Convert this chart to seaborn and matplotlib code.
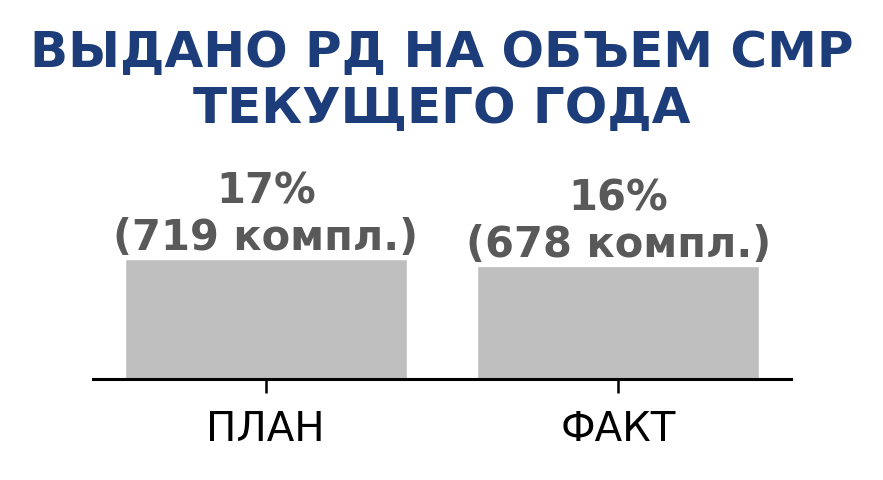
import matplotlib
matplotlib.use("Agg")
import matplotlib.pyplot as plt
import seaborn as sns
import pandas as pd

categories = ["ПЛАН", "ФАКТ"]
counts = [719, 678]
percents = [17, 16]
title = "ВЫДАНО РД НА ОБЪЕМ СМР\nТЕКУЩЕГО ГОДА"

sns.set_style("white")
plt.rcParams['font.family'] = ['DejaVu Sans']

df = pd.DataFrame({"cat": categories, "val": counts})

fig = plt.figure(figsize=(8.83, 4.8), dpi=100)
ax = fig.add_axes([93/883, 101/480, (791-93)/883, 235/480])

sns.barplot(data=df, x="cat", y="val", color="#bfbfbf", width=0.8,
            saturation=1, ax=ax)

ax.set_xlim(-0.49, 1.49)
ax.set_ylim(0, 1410)
ax.set_xlabel("")
ax.set_ylabel("")
ax.set_yticks([])
for s in ["top", "right", "left"]:
    ax.spines[s].set_visible(False)
ax.spines["bottom"].set_linewidth(2.2)
ax.spines["bottom"].set_color("black")
ax.tick_params(axis="x", length=10, width=1.8, color="black",
               labelsize=29, pad=12.5, bottom=True, labelcolor="black")

for i, (c, p) in enumerate(zip(counts, percents)):
    ax.annotate(f"{p}%\n({c} компл.)", xy=(i, c), xytext=(0, 0),
                textcoords="offset points", ha="center", va="bottom",
                fontsize=30, fontweight="bold", color="#595959",
                linespacing=1.15)

fig.text(0.5, 1 - 29/480, title, ha="center", va="top", fontsize=36,
         fontweight="bold", color="#1c3c7a", linespacing=1.2)

fig.savefig("out.png", dpi=100)
